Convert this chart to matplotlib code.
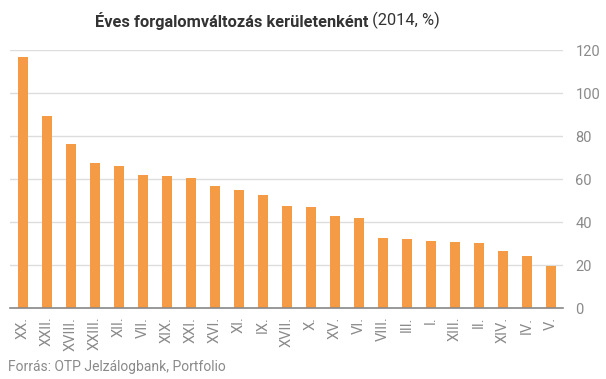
import numpy as np
import matplotlib.pyplot as plt

districts = ['XX.', 'XXII.', 'XVIII.', 'XXIII.', 'XII.', 'VII.', 'XIX.', 'XXI.',
             'XVI.', 'XI.', 'IX.', 'XVII.', 'X.', 'XV.', 'VI.', 'VIII.', 'III.',
             'I.', 'XIII.', 'II.', 'XIV.', 'IV.', 'V.']
change = [116.9, 89.4, 76.4, 67.6, 66.2, 62.0, 61.4, 60.8, 57.1, 55.2, 52.5,
          47.8, 46.9, 42.9, 41.9, 32.6, 32.2, 31.3, 30.8, 30.4, 26.7, 24.4, 19.8]
yticks = [0, 20, 40, 60, 80, 100, 120]

plt.rcParams['font.family'] = ['Roboto', 'DejaVu Sans']

fig = plt.figure(figsize=(6.06, 3.79), dpi=100)
ax = fig.add_axes([0.0165, 0.1865, 0.9125, 0.6808])

x = np.arange(len(districts))
ax.bar(x, change, width=0.42, color='#f59b45', zorder=2)

ax.set_xlim(-0.54, len(districts) - 0.5)
ax.set_ylim(0, 120)
ax.set_yticks(yticks)
ax.yaxis.tick_right()
ax.grid(axis='y', color='#dddddd', linewidth=1, zorder=0)
ax.tick_params(axis='y', length=0, pad=9, labelsize=10.5, labelcolor='#8a8a8a')
ax.set_xticks(x)
ax.set_xticklabels(districts, rotation=90, fontsize=10.5, color='#8a8a8a')
ax.tick_params(axis='x', length=0, pad=6)

for s in ['top', 'left', 'right']:
    ax.spines[s].set_visible(False)
ax.spines['bottom'].set_color('#888888')
ax.spines['bottom'].set_linewidth(1.2)

# title: bold part + normal part, centred together
t1 = fig.text(0, 0.945, 'Éves forgalomváltozás kerületenként', fontsize=11.8,
              fontweight='bold', color='#333333', ha='left', va='center')
t2 = fig.text(0, 0.945, ' (2014, %)', fontsize=11.8, color='#333333',
              ha='left', va='center')
r = fig.canvas.get_renderer()
w1 = t1.get_window_extent(r).width
w2 = t2.get_window_extent(r).width
x0 = 267.5 - (w1 + w2) / 2
t1.set_x(x0 / 606)
t2.set_x((x0 + w1) / 606)

fig.text(0.013, 0.012, 'Forrás: OTP Jelzálogbank, Portfolio', fontsize=10,
         color='#8a8a8a', ha='left', va='bottom')

fig.savefig('out.png', dpi=100)
